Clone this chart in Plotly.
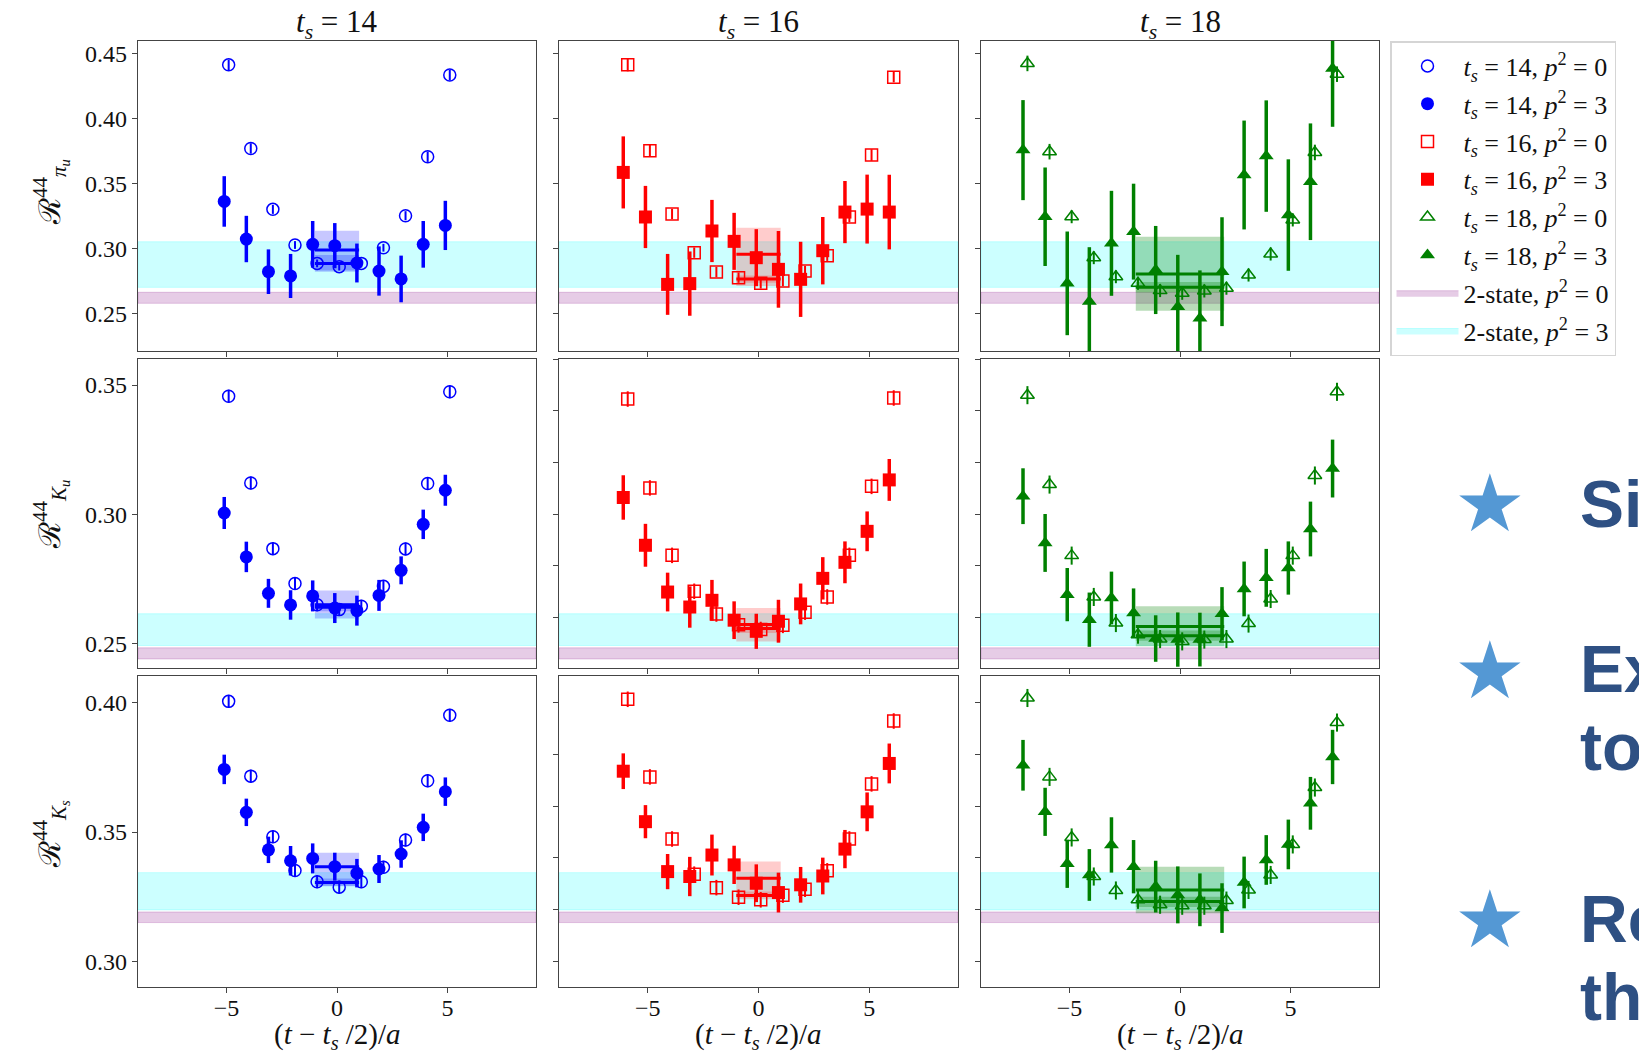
import plotly.graph_objects as go

# ---------------- data ----------------
T_TS14 = list(range(-5, 6))
T_TS16 = list(range(-6, 7))
T_TS18 = list(range(-7, 8))

# Row 1 : R^44_{pi_u}
PI_TS14_P3 = [0.3362, 0.3072, 0.2820, 0.2787, 0.3031, 0.3021, 0.2887, 0.2825, 0.2764, 0.3031, 0.3177]
PI_TS14_P3_ERR = [0.0195, 0.0179, 0.0172, 0.0170, 0.0180, 0.0174, 0.0150, 0.0190, 0.0180, 0.0180, 0.0190]
PI_TS14_P0 = [0.4416, 0.3771, 0.3301, 0.3026, 0.2884, 0.2859, 0.2884, 0.3005, 0.3252, 0.3707, 0.4337]
PI_TS14_P0_ERR = [0.004, 0.004, 0.0035, 0.003, 0.003, 0.003, 0.003, 0.003, 0.0035, 0.004, 0.004]
PI_TS16_P3 = [0.3586, 0.3242, 0.2722, 0.2728, 0.3134, 0.3054, 0.2928, 0.2838, 0.2761, 0.2982, 0.3280, 0.3303, 0.3280]
PI_TS16_P3_ERR = [0.0278, 0.0240, 0.0235, 0.0248, 0.0240, 0.0220, 0.0220, 0.0296, 0.0290, 0.0260, 0.0240, 0.0266, 0.0288]
PI_TS16_P0 = [0.4416, 0.3753, 0.3265, 0.2967, 0.2817, 0.2774, 0.2730, 0.2748, 0.2825, 0.2943, 0.3242, 0.3720, 0.4321]
PI_TS16_P0_ERR = [0.005, 0.0045, 0.004, 0.004, 0.004, 0.004, 0.004, 0.004, 0.004, 0.004, 0.004, 0.0045, 0.004]
PI_TS18_P3 = [0.3758, 0.3244, 0.2730, 0.2589, 0.3039, 0.3129, 0.2833, 0.2550, 0.2460, 0.2820, 0.3566, 0.3712, 0.3257, 0.3514, 0.4388]
PI_TS18_P3_ERR = [0.0386, 0.0380, 0.0400, 0.0420, 0.0405, 0.0370, 0.0340, 0.0400, 0.0370, 0.0420, 0.0420, 0.0430, 0.0430, 0.0450, 0.0450]
PI_TS18_P0 = [0.4427, 0.3746, 0.3244, 0.2928, 0.2781, 0.2730, 0.2674, 0.2653, 0.2671, 0.2692, 0.2794, 0.2956, 0.3219, 0.3740, 0.4344]
PI_TS18_P0_ERR = [0.006, 0.006, 0.005, 0.005, 0.005, 0.005, 0.005, 0.005, 0.005, 0.005, 0.005, 0.005, 0.005, 0.006, 0.006]

# Row 2 : R^44_{K_u}
KU_TS14_P3 = [0.3005, 0.2835, 0.2694, 0.2649, 0.2684, 0.2637, 0.2627, 0.2686, 0.2783, 0.2961, 0.3093]
KU_TS14_P3_ERR = [0.0062, 0.0059, 0.0056, 0.0057, 0.0060, 0.0058, 0.0058, 0.0060, 0.0054, 0.0057, 0.0060]
KU_TS14_P0 = [0.3457, 0.3121, 0.2867, 0.2732, 0.2650, 0.2631, 0.2644, 0.2721, 0.2866, 0.3119, 0.3474]
KU_TS14_P0_ERR = [0.0025] * 11
KU_TS16_P3 = [0.3065, 0.2880, 0.2699, 0.2641, 0.2667, 0.2590, 0.2547, 0.2586, 0.2653, 0.2752, 0.2814, 0.2934, 0.3133]
KU_TS16_P3_ERR = [0.0086, 0.0083, 0.0075, 0.0080, 0.0079, 0.0073, 0.0068, 0.0083, 0.0079, 0.0082, 0.0081, 0.0077, 0.0081]
KU_TS16_P0 = [0.3446, 0.3102, 0.2841, 0.2702, 0.2614, 0.2572, 0.2554, 0.2570, 0.2621, 0.2680, 0.2841, 0.3108, 0.3450]
KU_TS16_P0_ERR = [0.003] * 13
KU_TS18_P3 = [0.3070, 0.2889, 0.2689, 0.2592, 0.2676, 0.2618, 0.2519, 0.2515, 0.2515, 0.2615, 0.2711, 0.2754, 0.2792, 0.2943, 0.3177]
KU_TS18_P3_ERR = [0.0108, 0.0112, 0.0103, 0.0105, 0.0102, 0.0095, 0.0090, 0.0105, 0.0104, 0.0103, 0.0106, 0.0112, 0.0103, 0.0106, 0.0112]
KU_TS18_P0 = [0.3461, 0.3115, 0.2840, 0.2680, 0.2579, 0.2534, 0.2517, 0.2508, 0.2515, 0.2517, 0.2577, 0.2672, 0.2840, 0.3150, 0.3474]
KU_TS18_P0_ERR = [0.0035] * 15

# Row 3 : R^44_{K_s}
KS_TS14_P3 = [0.3742, 0.3576, 0.3431, 0.3389, 0.3398, 0.3366, 0.3341, 0.3357, 0.3415, 0.3518, 0.3656]
KS_TS14_P3_ERR = [0.0057, 0.0053, 0.0051, 0.0057, 0.0058, 0.0054, 0.0055, 0.0054, 0.0053, 0.0053, 0.0055]
KS_TS14_P0 = [0.4005, 0.3716, 0.3482, 0.3351, 0.3308, 0.3287, 0.3308, 0.3364, 0.3469, 0.3698, 0.3951]
KS_TS14_P0_ERR = [0.0025] * 11
KS_TS16_P3 = [0.3735, 0.3540, 0.3347, 0.3328, 0.3411, 0.3373, 0.3302, 0.3266, 0.3296, 0.3330, 0.3434, 0.3578, 0.3765]
KS_TS16_P3_ERR = [0.0069, 0.0064, 0.0068, 0.0076, 0.0079, 0.0074, 0.0073, 0.0077, 0.0069, 0.0071, 0.0074, 0.0075, 0.0077]
KS_TS16_P0 = [0.4013, 0.3713, 0.3473, 0.3337, 0.3285, 0.3248, 0.3238, 0.3256, 0.3279, 0.3350, 0.3473, 0.3686, 0.3929]
KS_TS16_P0_ERR = [0.003] * 13
KS_TS18_P3 = [0.3758, 0.3578, 0.3377, 0.3334, 0.3450, 0.3366, 0.3289, 0.3257, 0.3238, 0.3206, 0.3305, 0.3392, 0.3452, 0.3611, 0.3790]
KS_TS18_P3_ERR = [0.0098, 0.0093, 0.0093, 0.0100, 0.0107, 0.0103, 0.0100, 0.0110, 0.0102, 0.0096, 0.0100, 0.0096, 0.0096, 0.0102, 0.0105]
KS_TS18_P0 = [0.4018, 0.3713, 0.3479, 0.3328, 0.3274, 0.3238, 0.3219, 0.3215, 0.3215, 0.3235, 0.3276, 0.3334, 0.3452, 0.3672, 0.3923]
KS_TS18_P0_ERR = [0.0035] * 15

# 2-state fit bands (lo, hi) per row
BAND_P0 = [[0.2576, 0.2661], [0.2440, 0.2483], [0.3150, 0.3191]]
BAND_P3 = [[0.2699, 0.3051], [0.2492, 0.2615], [0.3199, 0.3343]]

# plateau fits per row, per t_s : (central, lo, hi)
FIT_P3 = [
    [[0.2987, 0.2830, 0.3136], [0.2954, 0.2710, 0.3159], [0.2802, 0.2519, 0.3090]],
    [[0.2650, 0.2597, 0.2705], [0.2573, 0.2508, 0.2637], [0.2566, 0.2489, 0.2644]],
    [[0.3366, 0.3292, 0.3420], [0.3321, 0.3248, 0.3386], [0.3276, 0.3186, 0.3366]],
]
FIT_P0 = [
    [[0.2884, 0.2820, 0.2949], [0.2763, 0.2735, 0.2790], [0.2699, 0.2660, 0.2740]],
    [[0.2640, 0.2625, 0.2655], [0.2558, 0.2540, 0.2575], [0.2530, 0.2510, 0.2550]],
    [[0.3305, 0.3290, 0.3320], [0.3255, 0.3240, 0.3270], [0.3231, 0.3210, 0.3250]],
]
FIT_TMIN = [-1, -1, -2]
FIT_TMAX = [1, 1, 2]

TS_VALUES = [14, 16, 18]
T_LISTS = [T_TS14, T_TS16, T_TS18]
ROW_YRANGE = [[0.2208, 0.4600], [0.2405, 0.3601], [0.2901, 0.4103]]
X_RANGE = [-9, 9]
ROW_LABELS = ["ℛ<sup>44</sup><sub><i>π<sub>u</sub></i></sub>",
              "ℛ<sup>44</sup><sub><i>K<sub>u</sub></i></sub>",
              "ℛ<sup>44</sup><sub><i>K<sub>s</sub></i></sub>"]

DATA = [
    [(PI_TS14_P3, PI_TS14_P3_ERR, PI_TS14_P0, PI_TS14_P0_ERR),
     (PI_TS16_P3, PI_TS16_P3_ERR, PI_TS16_P0, PI_TS16_P0_ERR),
     (PI_TS18_P3, PI_TS18_P3_ERR, PI_TS18_P0, PI_TS18_P0_ERR)],
    [(KU_TS14_P3, KU_TS14_P3_ERR, KU_TS14_P0, KU_TS14_P0_ERR),
     (KU_TS16_P3, KU_TS16_P3_ERR, KU_TS16_P0, KU_TS16_P0_ERR),
     (KU_TS18_P3, KU_TS18_P3_ERR, KU_TS18_P0, KU_TS18_P0_ERR)],
    [(KS_TS14_P3, KS_TS14_P3_ERR, KS_TS14_P0, KS_TS14_P0_ERR),
     (KS_TS16_P3, KS_TS16_P3_ERR, KS_TS16_P0, KS_TS16_P0_ERR),
     (KS_TS18_P3, KS_TS18_P3_ERR, KS_TS18_P0, KS_TS18_P0_ERR)],
]

# ---------------- style ----------------
W, H = 1639, 1056
COLORS = ["#0000ff", "#ff0000", "#008000"]
FILL_RGBA = ["rgba(0,0,255,0.22)", "rgba(255,0,0,0.2)", "rgba(0,128,0,0.28)"]
SYM_FILLED = ["circle", "square", "triangle-up"]
SYM_OPEN = ["circle-open", "square-open", "triangle-up-open"]
COL_PX = [(138, 536), (559, 958), (981, 1379)]
ROW_PX = [(41, 351), (359, 668), (676, 987)]
SERIF = "Liberation Serif"
OFFSET = 0.1

fig = go.Figure()


def ax_id(r, c):
    k = r * 3 + c + 1
    return ("x" if k == 1 else f"x{k}"), ("y" if k == 1 else f"y{k}")


def p2(n):
    return f"<i>p</i><sup>2</sup> = {n}"


for r in range(3):
    for c in range(3):
        xa, ya = ax_id(r, c)
        first = (r == 0 and c == 0)
        # 2-state bands
        for band, col, lg, rank, n in [(BAND_P0[r], "rgba(128,0,128,0.2)", "band0", 7, 0),
                                       (BAND_P3[r], "rgba(0,255,255,0.2)", "band3", 8, 3)]:
            lo, hi = band
            fig.add_trace(go.Scatter(
                x=[X_RANGE[0], X_RANGE[1], X_RANGE[1], X_RANGE[0], X_RANGE[0]],
                y=[lo, lo, hi, hi, lo], mode="lines", fill="toself",
                fillcolor=col, line=dict(color=col, width=1),
                name="2-state, " + p2(n), legendgroup=lg, legendrank=rank,
                showlegend=first, xaxis=xa, yaxis=ya, hoverinfo="skip"))
        # plateau fit rectangles
        t0, t1 = FIT_TMIN[c], FIT_TMAX[c]
        for fit in (FIT_P3[r][c], FIT_P0[r][c]):
            cen, lo, hi = fit
            fig.add_trace(go.Scatter(
                x=[t0, t1, t1, t0, t0], y=[lo, lo, hi, hi, lo], mode="lines",
                fill="toself", fillcolor=FILL_RGBA[c], line=dict(width=0),
                showlegend=False, xaxis=xa, yaxis=ya, hoverinfo="skip"))
        p3, p3e, p0, p0e = DATA[r][c]
        ts = T_LISTS[c]
        # open markers (p^2 = 0)
        fig.add_trace(go.Scatter(
            x=[t + OFFSET for t in ts], y=p0, mode="markers",
            marker=dict(symbol=SYM_OPEN[c], size=12, color=COLORS[c],
                        line=dict(color=COLORS[c], width=1.5)),
            error_y=dict(type="data", array=p0e, color=COLORS[c], thickness=2, width=0),
            name=f"<i>t<sub>s</sub></i> = {TS_VALUES[c]}, " + p2(0),
            legendgroup=f"ts{c}p0", legendrank=2 * c + 1, showlegend=(r == 0),
            xaxis=xa, yaxis=ya))
        # filled markers (p^2 = 3)
        fig.add_trace(go.Scatter(
            x=[t - OFFSET for t in ts], y=p3, mode="markers",
            marker=dict(symbol=SYM_FILLED[c], size=13, color=COLORS[c]),
            error_y=dict(type="data", array=p3e, color=COLORS[c], thickness=3.5, width=0),
            name=f"<i>t<sub>s</sub></i> = {TS_VALUES[c]}, " + p2(3),
            legendgroup=f"ts{c}p3", legendrank=2 * c + 2, showlegend=(r == 0),
            xaxis=xa, yaxis=ya))
        # fit central lines
        for fit in (FIT_P3[r][c], FIT_P0[r][c]):
            fig.add_trace(go.Scatter(
                x=[t0, t1], y=[fit[0], fit[0]], mode="lines",
                line=dict(color=COLORS[c], width=3),
                showlegend=False, xaxis=xa, yaxis=ya, hoverinfo="skip"))

# ---------------- axes ----------------
axis_common = dict(showgrid=False, zeroline=False, showline=True, linecolor="#444",
                   linewidth=1.3, mirror=True, ticks="outside", ticklen=5,
                   tickwidth=1.2, tickcolor="#444",
                   tickfont=dict(family=SERIF, size=24, color="#111"))
layout_axes = {}
for r in range(3):
    for c in range(3):
        k = r * 3 + c + 1
        xa, ya = ax_id(r, c)
        xname = "xaxis" if k == 1 else f"xaxis{k}"
        yname = "yaxis" if k == 1 else f"yaxis{k}"
        x0, x1 = COL_PX[c]
        y0, y1 = ROW_PX[r]
        xd = dict(axis_common, domain=[x0 / W, x1 / W], range=X_RANGE, anchor=ya,
                  tickvals=[-5, 0, 5], ticktext=["−5", "0", "5"],
                  showticklabels=(r == 2), ticklabelstandoff=-6)
        yd = dict(axis_common, domain=[1 - y1 / H, 1 - y0 / H], range=ROW_YRANGE[r],
                  anchor=xa, showticklabels=(c == 0), tickformat=".2f")
        if r == 0 or c == 0:
            yd.update(tick0=0, dtick=0.05)
        else:
            yd.update(tick0=0, dtick=0.02)
        layout_axes[xname] = xd
        layout_axes[yname] = yd

# ---------------- annotations ----------------
ann = []
for c in range(3):
    cx = (COL_PX[c][0] + COL_PX[c][1]) / 2 / W
    ann.append(dict(x=cx, y=1 - 24 / H, xref="paper", yref="paper", showarrow=False,
                    text=f"<i>t<sub>s</sub></i> = {TS_VALUES[c]}", xanchor="center", yanchor="middle",
                    font=dict(family=SERIF, size=31, color="#111")))
    ann.append(dict(x=cx, y=1 - 1036 / H, xref="paper", yref="paper", showarrow=False,
                    text="(<i>t</i> − <i>t<sub>s</sub></i> /2)/<i>a</i>", xanchor="center", yanchor="middle",
                    font=dict(family=SERIF, size=29, color="#111")))
ROW_TITLE_Y = [192, 515, 834]
for r in range(3):
    ann.append(dict(x=50 / W, y=1 - ROW_TITLE_Y[r] / H, xref="paper", yref="paper",
                    showarrow=False, text=ROW_LABELS[r], textangle=-90,
                    xanchor="center", yanchor="middle",
                    font=dict(family=SERIF, size=30, color="#111")))

# slide fragments on the right
STAR_Y = [503, 670, 919]
for sy in STAR_Y:
    ann.append(dict(x=1489.5 / W, y=1 - sy / H, xref="paper", yref="paper", showarrow=False,
                    text="★", xanchor="center", yanchor="middle",
                    font=dict(family="DejaVu Sans", size=80, color="#5498d4")))
SLIDE_TEXT = [("Si", 504), ("Ex", 669), ("to", 747), ("Re", 919), ("th", 997)]
for txt, ty in SLIDE_TEXT:
    ann.append(dict(x=1578 / W, y=1 - ty / H, xref="paper", yref="paper", showarrow=False,
                    text=f"<b>{txt}</b>", xanchor="left", yanchor="middle",
                    font=dict(family="Liberation Sans", size=66, color="#2e5083")))

fig.update_layout(
    width=W, height=H, margin=dict(l=0, r=0, t=0, b=0),
    paper_bgcolor="white", plot_bgcolor="white",
    showlegend=True,
    legend=dict(x=1390 / W, y=1 - 41 / H, xanchor="left", yanchor="top",
                bgcolor="white", bordercolor="#d5d5d5", borderwidth=1.5,
                font=dict(family=SERIF, size=26, color="#111"),
                itemwidth=62, traceorder="grouped", tracegroupgap=1),
    annotations=ann,
    **layout_axes,
)

fig.write_html("out.html")
